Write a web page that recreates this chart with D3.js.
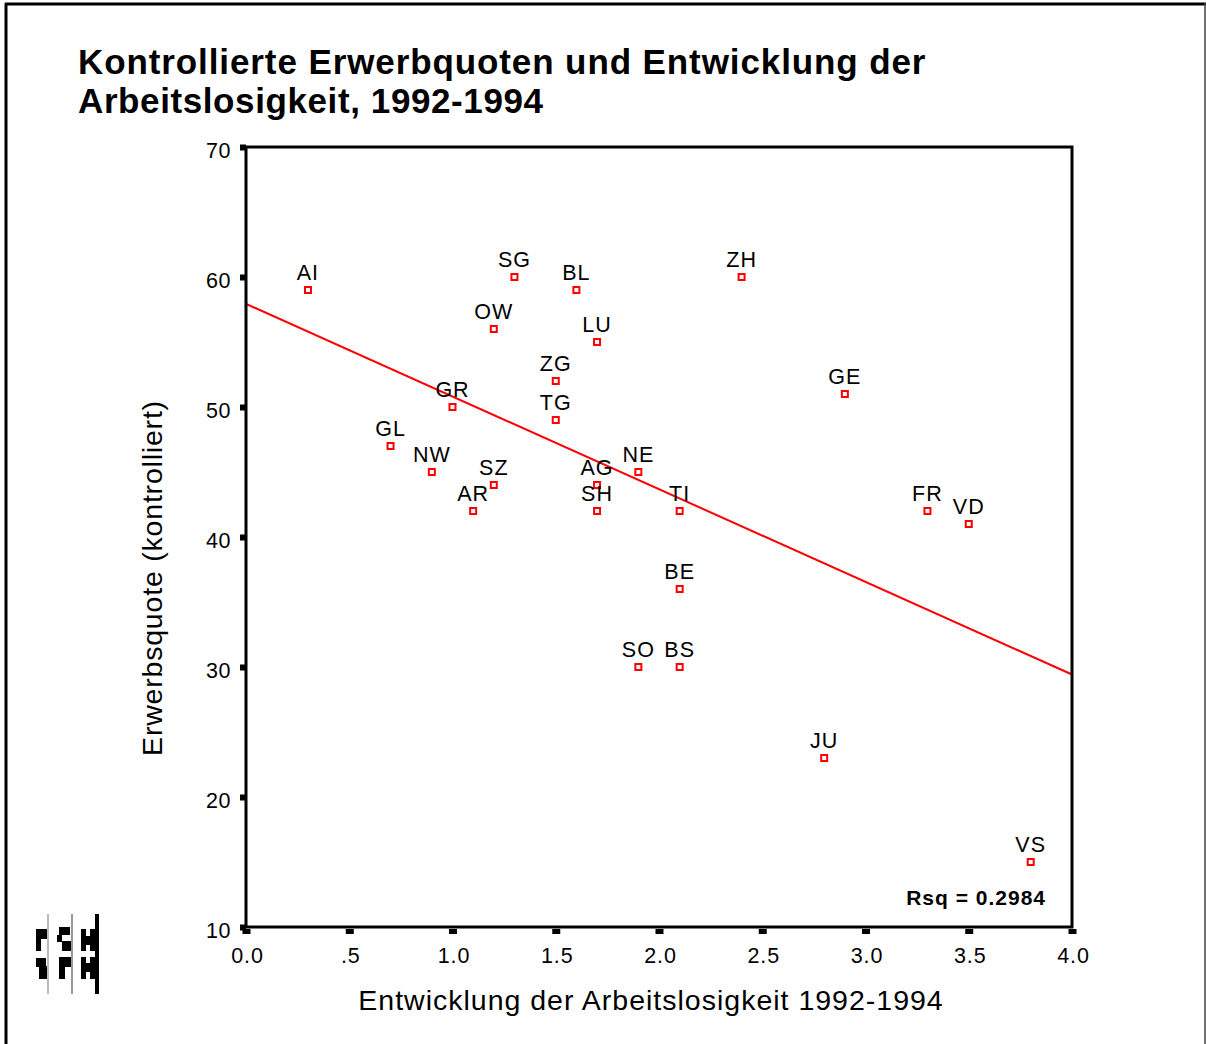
<!DOCTYPE html>
<html>
<head>
<meta charset="utf-8">
<script src="https://d3js.org/d3.v7.min.js"></script>
<style>
  body { margin: 0; background: #fff; }
  text { font-family: Arial, "Liberation Sans", sans-serif; }
</style>
</head>
<body>
<svg width="1206" height="1044"></svg>
<script>
// cantons, x = change in unemployment 1992-1994, y = controlled participation rate
const cantons = ["AI","SG","BL","ZH","OW","LU","ZG","GE","GR","TG","GL","NW","NE","SZ","AG","AR","SH","TI","FR","VD","BE","SO","BS","JU","VS"];
const xVals  = [0.3, 1.3, 1.6, 2.4, 1.2, 1.7, 1.5, 2.9, 1.0, 1.5, 0.7, 0.9, 1.9, 1.2, 1.7, 1.1, 1.7, 2.1, 3.3, 3.5, 2.1, 1.9, 2.1, 2.8, 3.8];
const yVals  = [59, 60, 59, 60, 56, 55, 52, 51, 50, 49, 47, 45, 45, 44, 44, 42, 42, 42, 42, 41, 36, 30, 30, 23, 15];
const xTicks = [0, 0.5, 1, 1.5, 2, 2.5, 3, 3.5, 4];
const xTickLabels = ["0.0", ".5", "1.0", "1.5", "2.0", "2.5", "3.0", "3.5", "4.0"];
const yTicks = [10, 20, 30, 40, 50, 60, 70];
const rsq = "Rsq = 0.2984";

const svg = d3.select("svg");

// outer frame
svg.append("line").attr("x1", 5).attr("x2", 1206).attr("y1", 4).attr("y2", 4)
  .attr("stroke", "#000").attr("stroke-width", 3);
svg.append("line").attr("x1", 6).attr("x2", 6).attr("y1", 3).attr("y2", 1044)
  .attr("stroke", "#000").attr("stroke-width", 3);
svg.append("line").attr("x1", 1205).attr("x2", 1205).attr("y1", 3).attr("y2", 1044)
  .attr("stroke", "#444").attr("stroke-width", 1.5);

// title
svg.append("text").attr("x", 78).attr("y", 74).attr("font-size", 35).attr("font-weight", "bold")
  .attr("letter-spacing", 0.9).text("Kontrollierte Erwerbquoten und Entwicklung der");
svg.append("text").attr("x", 78).attr("y", 113).attr("font-size", 35).attr("font-weight", "bold")
  .attr("letter-spacing", 0.6).text("Arbeitslosigkeit, 1992-1994");

const pLeft = 246, pRight = 1072, pTop = 147, pBottom = 927;
const x = d3.scaleLinear().domain([0, 4]).range([pLeft, pRight]);
const y = d3.scaleLinear().domain([10, 70]).range([pBottom, pTop]);

// regression line (least squares)
const mx = d3.mean(xVals), my = d3.mean(yVals);
const sxy = d3.sum(xVals, (v, i) => (v - mx) * (yVals[i] - my));
const sxx = d3.sum(xVals, v => (v - mx) * (v - mx));
const slope = sxy / sxx, icept = my - slope * mx;

const g = svg.append("g");
g.append("line")
  .attr("x1", x(0)).attr("y1", y(icept))
  .attr("x2", x(4)).attr("y2", y(icept + slope * 4))
  .attr("stroke", "#f00").attr("stroke-width", 2);

// points + labels
cantons.forEach((c, i) => {
  g.append("rect")
    .attr("x", x(xVals[i]) - 3).attr("y", y(yVals[i]) - 3)
    .attr("width", 6).attr("height", 6)
    .attr("fill", "#fff").attr("stroke", "#f00").attr("stroke-width", 2);
  g.append("text")
    .attr("x", x(xVals[i])).attr("y", y(yVals[i]) - 10)
    .attr("text-anchor", "middle").attr("font-size", 21.5).attr("letter-spacing", 1)
    .text(c);
});

// plot frame
svg.append("rect").attr("x", pLeft).attr("y", pTop).attr("width", pRight - pLeft).attr("height", pBottom - pTop)
  .attr("fill", "none").attr("stroke", "#000").attr("stroke-width", 3);

// axes
const yAxis = svg.append("g").attr("transform", `translate(${pLeft},0)`)
  .call(d3.axisLeft(y).tickValues(yTicks).tickSize(0).tickPadding(15));
yAxis.select(".domain").remove();
yAxis.selectAll(".tick").append("rect").attr("x", -6).attr("y", -3).attr("width", 6).attr("height", 6).attr("fill", "#000");
yAxis.selectAll("text").attr("font-size", 21.5).attr("letter-spacing", 0.5)
  .attr("font-family", "Arial, 'Liberation Sans', sans-serif").attr("fill", "#000").attr("dy", "0.48em");

const xAxis = svg.append("g").attr("transform", `translate(0,${pBottom})`)
  .call(d3.axisBottom(x).tickValues(xTicks).tickFormat((d, i) => xTickLabels[i]).tickSize(0).tickPadding(21));
xAxis.select(".domain").remove();
xAxis.selectAll(".tick").append("rect").attr("x", -4).attr("y", 2).attr("width", 8).attr("height", 5).attr("fill", "#000");
xAxis.selectAll("text").attr("font-size", 21.5).attr("letter-spacing", 0.8).attr("dx", 1)
  .attr("font-family", "Arial, 'Liberation Sans', sans-serif").attr("fill", "#000");

// Rsq
svg.append("text").attr("x", 1046).attr("y", 905).attr("text-anchor", "end")
  .attr("font-size", 21).attr("font-weight", "bold").attr("letter-spacing", 1).text(rsq);

// axis titles
svg.append("text").attr("x", 651).attr("y", 1010).attr("text-anchor", "middle").attr("font-size", 28.5)
  .attr("letter-spacing", 1).text("Entwicklung der Arbeitslosigkeit 1992-1994");
svg.append("text").attr("transform", "translate(162,578) rotate(-90)").attr("text-anchor", "middle").attr("font-size", 28.5)
  .attr("letter-spacing", 0.8).text("Erwerbsquote (kontrolliert)");

// little logo bottom left
const logo = svg.append("g");
logo.append("line").attr("x1", 48).attr("x2", 48).attr("y1", 914).attr("y2", 994).attr("stroke", "#bbb").attr("stroke-width", 2);
logo.append("line").attr("x1", 72).attr("x2", 72).attr("y1", 914).attr("y2", 994).attr("stroke", "#999").attr("stroke-width", 2);
logo.append("line").attr("x1", 97).attr("x2", 97).attr("y1", 914).attr("y2", 994).attr("stroke", "#000").attr("stroke-width", 4);
const blocks = [
  [36, 929, 11, 10], [36, 939, 5, 12],
  [59, 927, 11, 8], [57, 935, 5, 7], [62, 941, 9, 10],
  [81, 929, 5, 22], [86, 936, 5, 9], [90, 929, 6, 22],
  [36, 958, 10, 9], [39, 966, 8, 13],
  [59, 957, 12, 10], [59, 966, 6, 13],
  [81, 957, 5, 22], [86, 963, 5, 9], [90, 957, 6, 22]
];
blocks.forEach(b => logo.append("rect").attr("x", b[0]).attr("y", b[1]).attr("width", b[2]).attr("height", b[3]).attr("fill", "#000"));
</script>
</body>
</html>
